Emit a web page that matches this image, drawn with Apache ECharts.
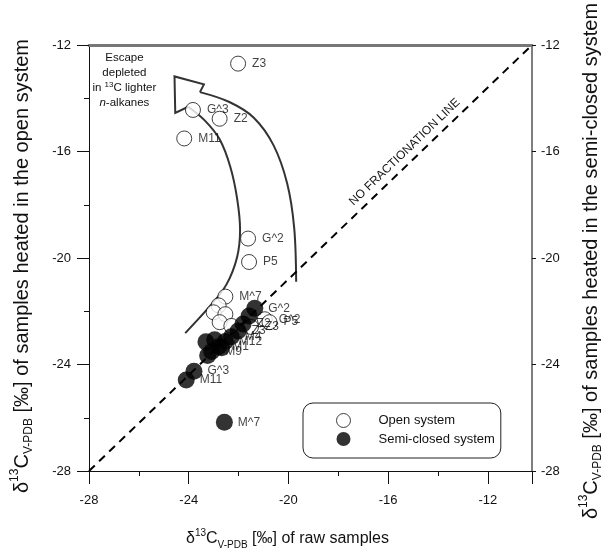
<!DOCTYPE html>
<html><head><meta charset="utf-8">
<script src="https://cdn.jsdelivr.net/npm/echarts@6/dist/echarts.min.js"></script>
<style>html,body{margin:0;padding:0;background:#fff}#c{width:612px;height:555px}</style>
</head><body><div id="c"></div>
<script>
// ---- data ----
const xTicks = [-28, -24, -20, -16, -12];
const yTicks = [-28, -24, -20, -16, -12];
const openNames = ['Z3','G^3','Z2','M11','G^2','P5','M^7','','','','','','G^2','P5','Z3'];
const openX = [-22.02,-23.83,-22.76,-24.18,-21.62,-21.58,-22.53,-22.80,-23.00,-22.53,-22.76,-22.29,-20.95,-20.76,-21.50];
const openY = [-12.70,-14.44,-14.77,-15.51,-19.27,-20.15,-21.45,-21.78,-22.04,-22.11,-22.41,-22.55,-22.30,-22.41,-22.59];
const semiNames = ['G^2','','Z2','Z3','M4','M12','M1','M9','','','','','G^3','M11','M^7'];
const semiX = [-21.35,-21.58,-21.82,-22.02,-22.29,-22.53,-22.80,-23.08,-23.24,-22.96,-22.68,-23.31,-23.79,-24.10,-22.57];
const semiY = [-21.89,-22.18,-22.48,-22.74,-22.96,-23.14,-23.33,-23.51,-23.66,-23.07,-23.37,-23.15,-24.25,-24.58,-26.17];
const lineX = [-28, -10.23];
const lineY = [-28, -12];

const FONT = 'Liberation Sans, Arial, sans-serif';
const toItems = (n, xs, ys) => n.map((nm, i) => ({ name: nm, value: [xs[i], ys[i]] }));

const rich = (fs) => ({
  d: { fontSize: fs, fontFamily: FONT, color: '#111', lineHeight: fs + 6 },
  sup: { fontSize: Math.round(fs * 0.62), fontFamily: FONT, color: '#111', verticalAlign: 'top', lineHeight: fs * 0.75 },
  sub: { fontSize: Math.round(fs * 0.62), fontFamily: FONT, color: '#111', verticalAlign: 'bottom', lineHeight: fs * 0.75 }
});
const axisName = (tail) => '{d|δ}{sup|13}{d|C}{sub|V-PDB}{d| [‰] ' + tail + '}';

const chart = echarts.init(document.getElementById('c'), null, { renderer: 'canvas' });

chart.setOption({
  animation: false,
  backgroundColor: '#fff',
  grid: { left: 89, right: 72, top: 45, bottom: 78 },
  legend: {
    show: true,
    left: 303, top: 403,
    orient: 'vertical',
    padding: [10, 6, 12, 33],
    itemWidth: 14, itemHeight: 14, itemGap: 4,
    borderColor: '#222', borderWidth: 1, borderRadius: 10,
    textStyle: { fontFamily: FONT, fontSize: 13, color: '#111', padding: [0, 0, 0, 23] },
    data: [
      { name: 'Open system', icon: 'circle', itemStyle: { color: '#fff', borderColor: '#111', borderWidth: 1 } },
      { name: 'Semi-closed system', icon: 'circle', itemStyle: { color: '#000' } }
    ]
  },
  xAxis: [{
    type: 'value', min: -28, max: lineX[1], interval: 4,
    position: 'bottom',
    axisLine: { show: true, onZero: false, lineStyle: { color: '#111', width: 1 } },
    axisTick: { show: true, length: 13, lineStyle: { color: '#111' } },
    minorTick: { show: true, splitNumber: 2, length: 5, lineStyle: { color: '#111' } },
    splitLine: { show: false },
    axisLabel: { fontFamily: FONT, fontSize: 13, color: '#111', margin: 23, showMaxLabel: false,
      formatter: v => (xTicks.indexOf(v) >= 0 ? String(v) : '') },
    name: axisName('of raw samples'),
    nameLocation: 'middle', nameGap: 57,
    nameTextStyle: { rich: rich(16), padding: [0, 46, 0, 0] }
  }, {
    type: 'value', min: -28, max: lineX[1], position: 'top',
    axisLine: { show: true, onZero: false, lineStyle: { color: '#777', width: 3 } },
    axisTick: { show: false }, axisLabel: { show: false }, splitLine: { show: false }
  }],
  yAxis: [{
    type: 'value', min: -28, max: -12, interval: 4, position: 'left',
    axisLine: { show: true, onZero: false, lineStyle: { color: '#111', width: 1 } },
    axisTick: { show: true, length: 12, lineStyle: { color: '#111' } },
    minorTick: { show: true, splitNumber: 2, length: 5, lineStyle: { color: '#111' } },
    splitLine: { show: false },
    axisLabel: { fontFamily: FONT, fontSize: 13, color: '#111', margin: 18,
      formatter: v => (yTicks.indexOf(v) >= 0 ? String(v) : '') },
    name: axisName('of samples heated in the open system'),
    nameLocation: 'middle', nameGap: 54, nameRotate: 90,
    nameTextStyle: { rich: rich(20), padding: [0, 16, 0, 0] }
  }, {
    type: 'value', min: -28, max: -12, interval: 4, position: 'right',
    axisLine: { show: true, onZero: false, lineStyle: { color: '#555', width: 1.5 } },
    axisTick: { show: true, length: 4, lineStyle: { color: '#111' } },
    splitLine: { show: false },
    axisLabel: { fontFamily: FONT, fontSize: 13, color: '#111', margin: 9 },
    name: axisName('of samples heated in the semi-closed system'),
    nameLocation: 'middle', nameGap: 46, nameRotate: 90,
    nameTextStyle: { rich: rich(20), padding: [0, 6, 0, 0] }
  }],
  series: [
    {
      type: 'line', name: 'line', data: lineX.map((x, i) => [x, lineY[i]]),
      symbol: 'none', silent: true, z: 1,
      lineStyle: { color: '#000', width: 2, type: [8, 6] }
    },
    {
      type: 'scatter', name: 'Open system', data: toItems(openNames, openX, openY),
      symbol: 'circle', symbolSize: 15, z: 2,
      itemStyle: { color: '#fff', borderColor: '#111', borderWidth: 1 },
      label: { show: true, position: 'right', distance: 6, formatter: p => p.name,
        fontFamily: FONT, fontSize: 12, color: '#111' }
    },
    {
      type: 'scatter', name: 'Semi-closed system', data: toItems(semiNames, semiX, semiY),
      symbol: 'circle', symbolSize: 17, z: 3,
      itemStyle: { color: '#000' },
      label: { show: true, position: 'right', distance: 5, formatter: p => p.name,
        fontFamily: FONT, fontSize: 12, color: '#111' }
    }
  ]
});

// ---- annotations (arrow, texts), positioned in data coordinates ----
const outer = [[-23.55,-13.77],[-22.37,-14.14],[-21.39,-14.73],[-20.60,-15.76],[-20.05,-17.20],[-19.77,-18.86],[-19.69,-20.89]];
const inner = [[-24.02,-14.32],[-23.35,-14.84],[-22.76,-15.54],[-22.33,-16.58],[-22.06,-17.76],[-21.94,-18.94],[-22.06,-19.97],[-22.49,-21.00],[-23.16,-21.82],[-24.14,-22.82]];
const head = [[-23.55,-13.77],[-23.39,-13.48],[-24.57,-13.18],[-24.54,-14.55],[-24.02,-14.32]];
const px = p => chart.convertToPixel({ gridIndex: 0 }, p);
const p0 = px([lineX[0], lineY[0]]), p1 = px([lineX[1], lineY[1]]);
const dx = p1[0] - p0[0], dy = p1[1] - p0[1], L = Math.hypot(dx, dy);
const ang = Math.atan2(-dy, dx);
const t = 0.73, off = 11;
const lblX = p0[0] + dx * t + (dy / L) * off, lblY = p0[1] + dy * t - (dx / L) * off;
const escPos = px([-26.58, -13.33]);
const strokeStyle = { stroke: '#333', lineWidth: 2, fill: null };

chart.setOption({
  graphic: [
    { type: 'polyline', shape: { points: outer.map(px), smooth: 0.35 }, style: strokeStyle, z: 0 },
    { type: 'polyline', shape: { points: inner.map(px), smooth: 0.35 }, style: strokeStyle, z: 0 },
    { type: 'polyline', shape: { points: head.map(px) }, style: Object.assign({ lineJoin: 'miter' }, strokeStyle), z: 0 },
    { type: 'text', x: lblX, y: lblY, rotation: ang,
      style: { text: 'NO FRACTIONATION LINE', fontFamily: FONT, fontSize: 12, fill: '#111', align: 'center', verticalAlign: 'middle' } },
    { type: 'text', x: escPos[0], y: escPos[1],
      style: {
        text: '{a|Escape}\n{a|depleted}\n{a|in }{s|13}{a|C lighter}\n{i|n}{a|-alkanes}',
        align: 'center', verticalAlign: 'middle',
        rich: {
          a: { fontFamily: FONT, fontSize: 11.5, fill: '#111', lineHeight: 15 },
          s: { fontFamily: FONT, fontSize: 8, fill: '#111', lineHeight: 15, verticalAlign: 'top' },
          i: { fontFamily: FONT, fontSize: 11.5, fontStyle: 'italic', fill: '#111', lineHeight: 15 }
        }
      } }
  ]
});
</script></body></html>
